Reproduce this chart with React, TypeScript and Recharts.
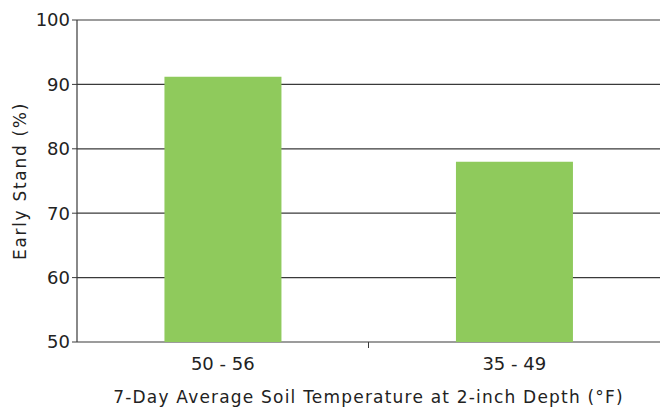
import { BarChart, Bar, XAxis, YAxis, CartesianGrid } from "recharts";

const categories = ["50 - 56", "35 - 49"];
const earlyStand = [91.2, 78.0];
const yTicks = [50, 60, 70, 80, 90, 100];
const boundaryTicks = [1];

const data = categories.map((range, i) => ({ range, idx: i, stand: earlyStand[i] }));

const FONT = "'DejaVu Sans', sans-serif";
const INK = "#222222";
const LINE = "#3a3a3a";

const NoLabel = () => <g />;

export default function App() {
  return (
    <div style={{ position: "absolute", left: 0, top: 0, background: "#fff" }}>
      <BarChart
        width={660}
        height={409}
        data={data}
        margin={{ top: 20, right: 0, left: 0, bottom: 0 }}
        barCategoryGap="30%"
        style={{ fontFamily: FONT }}
      >
        <CartesianGrid vertical={false} stroke={LINE} strokeWidth={1.2} />
        {/* tick between the two categories */}
        <XAxis
          type="number"
          dataKey="idx"
          domain={[0, 2]}
          ticks={boundaryTicks}
          height={1}
          axisLine={false}
          tickLine={{ stroke: LINE }}
          tickSize={6}
          tick={<NoLabel />}
        />
        <XAxis
          xAxisId="cat"
          dataKey="range"
          height={66}
          axisLine={false}
          tickLine={false}
          tickSize={6}
          tickMargin={8}
          tick={{ fill: INK, fontSize: 18 }}
          label={{
            value: "7-Day Average Soil Temperature at 2-inch Depth (°F)",
            position: "insideBottom",
            offset: 6,
            fill: INK,
            fontSize: 17,
            letterSpacing: 1.2,
          }}
        />
        <YAxis
          width={77}
          domain={[50, 100]}
          ticks={yTicks}
          allowDataOverflow
          axisLine={{ stroke: LINE, strokeWidth: 1.2 }}
          tickLine={{ stroke: LINE }}
          tickSize={5}
          tickMargin={2}
          tick={{ fill: INK, fontSize: 18 }}
          label={{
            value: "Early Stand (%)",
            angle: -90,
            position: "insideLeft",
            offset: 20,
            fill: INK,
            fontSize: 17,
            letterSpacing: 1.7,
            style: { textAnchor: "middle" },
          }}
        />
        <Bar xAxisId="cat" dataKey="stand" fill="#8fca5c" isAnimationActive={false} />
      </BarChart>
    </div>
  );
}
